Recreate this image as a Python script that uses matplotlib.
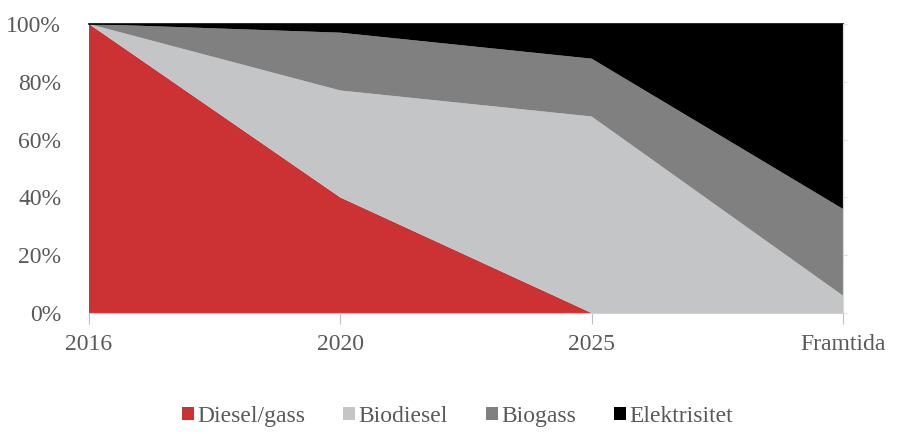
import numpy as np
import matplotlib.pyplot as plt

categories = ["2016", "2020", "2025", "Framtida"]
diesel = [100, 40, 0, 0]
biodiesel = [0, 37, 68, 6]
biogass = [0, 20, 20, 30]
elektrisitet = [0, 3, 12, 64]

labels = ["Diesel/gass", "Biodiesel", "Biogass", "Elektrisitet"]
colors = ["#CC3133", "#C4C5C7", "#808080", "#000000"]

plt.rcParams["font.family"] = ["Liberation Serif", "DejaVu Serif"]
txt = "#595959"

fig = plt.figure(figsize=(8.97, 4.34), dpi=100)
ax = fig.add_axes([0.0992, 0.2788, 0.8406, 0.6659])

x = np.arange(len(categories))
ax.stackplot(x, diesel, biodiesel, biogass, elektrisitet, colors=colors, labels=labels)

ax.set_xlim(0, len(categories) - 1)
ax.set_ylim(0, 100)
ax.set_xticks(x)
ax.set_xticklabels(categories)
ax.set_yticks(range(0, 101, 20))
ax.set_yticklabels([f"{v}%" for v in range(0, 101, 20)])

ax.spines["left"].set_visible(False)
ax.spines["top"].set_color("black")
ax.spines["top"].set_linewidth(1.2)
ax.spines["bottom"].set_color("#D0D0D0")
ax.spines["right"].set_color("#D8D8D8")
ax.tick_params(axis="x", colors="#C0C0C0", length=8, labelcolor=txt, labelsize=17, pad=7)
ax.tick_params(axis="y", length=0, labelcolor=txt, labelsize=17, pad=20)

ax2 = ax.twinx()
ax2.set_ylim(0, 100)
ax2.set_yticks(range(0, 101, 20))
ax2.set_yticklabels([])
ax2.tick_params(axis="y", colors="#E0E0E0", length=3)
for s in ["left", "top", "bottom"]:
    ax2.spines[s].set_visible(False)
ax2.spines["right"].set_color("#D8D8D8")

handles, lbls = ax.get_legend_handles_labels()
fig.legend(handles, lbls, loc="center", bbox_to_anchor=(0.51, 0.04), ncol=4, frameon=False,
           fontsize=17, labelcolor=txt, handlelength=0.5, handleheight=0.5,
           handletextpad=0.15, columnspacing=1.6)

fig.savefig("out.png", dpi=100)
